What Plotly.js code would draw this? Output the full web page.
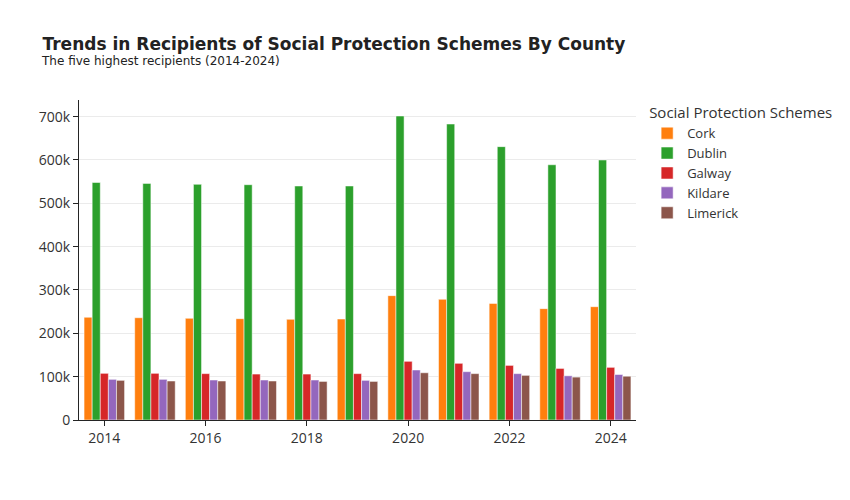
<!DOCTYPE html>
<html>
<head>
<meta charset="utf-8">
<script src="https://cdn.plot.ly/plotly-3.0.1.min.js"></script>
<style>html,body{margin:0;padding:0;background:#fff;}#chart{width:850px;height:500px;}</style>
</head>
<body>
<div id="chart"></div>
<script>
const years = [2014, 2015, 2016, 2017, 2018, 2019, 2020, 2021, 2022, 2023, 2024];
const counties = ["Cork", "Dublin", "Galway", "Kildare", "Limerick"];
const cork     = [237000, 236000, 234600, 233800, 232300, 233000, 287000, 278500, 269000, 257000, 261500];
const dublin   = [548000, 546000, 543800, 543000, 540000, 540000, 701500, 683000, 630800, 589000, 600000];
const galway   = [107700, 107700, 107000, 106000, 106000, 107000, 135400, 130800, 126000, 119000, 121500];
const kildare  = [93800, 93800, 92300, 92300, 92300, 91500, 115400, 111500, 107000, 102000, 105000];
const limerick = [91500, 90000, 90000, 90000, 89000, 89000, 109000, 107000, 103000, 99000, 101000];
const seriesValues = [cork, dublin, galway, kildare, limerick];
const colors = ["#ff7f0e", "#2ca02c", "#d62728", "#9467bd", "#8c564b"];
const titleText = "Trends in Recipients of Social Protection Schemes By County";
const subtitleText = "The five highest recipients (2014-2024)";

const traces = counties.map((name, i) => ({
  type: "bar",
  name: name,
  x: years,
  y: seriesValues[i],
  marker: {color: colors[i], line: {color: "rgba(255,255,255,0.5)", width: 1}}
}));

const layout = {
  width: 850, height: 500,
  margin: {l: 79, r: 214, t: 100, b: 80},
  paper_bgcolor: "#fff", plot_bgcolor: "#fff",
  font: {family: "Open Sans, sans-serif", color: "#444"},
  title: {
    text: "<b>" + titleText + "</b>",
    font: {family: "DejaVu Sans", size: 17, color: "#222"},
    x: 0.05, xanchor: "left", y: 0.912, yanchor: "middle"
  },
  annotations: [{
    text: subtitleText,
    xref: "paper", yref: "paper",
    x: -0.072, y: 1.122, xanchor: "left", yanchor: "middle",
    showarrow: false,
    font: {family: "DejaVu Sans", size: 12, color: "#222"}
  }],
  barmode: "group",
  bargap: 0.2,
  xaxis: {
    showline: true, linecolor: "#242424", linewidth: 1,
    ticks: "outside", ticklen: 5, tickcolor: "#242424",
    dtick: 2, tick0: 2014,
    showgrid: false, zeroline: false,
    tickfont: {size: 14, color: "#333"}
  },
  yaxis: {
    showline: true, linecolor: "#242424", linewidth: 1,
    ticks: "outside", ticklen: 5, tickcolor: "#242424",
    showgrid: true, gridcolor: "#ebebeb", zeroline: false,
    tickformat: "~s",
    tickfont: {size: 14, color: "#333"}
  },
  legend: {
    title: {text: "Social Protection Schemes", font: {size: 15, color: "#333"}},
    font: {size: 13, color: "#333"},
    x: 1.02, y: 1.004, xanchor: "left", yanchor: "top",
    tracegroupgap: 0
  },
  showlegend: true
};

Plotly.newPlot("chart", traces, layout, {displayModeBar: false, responsive: false});
</script>
</body>
</html>
